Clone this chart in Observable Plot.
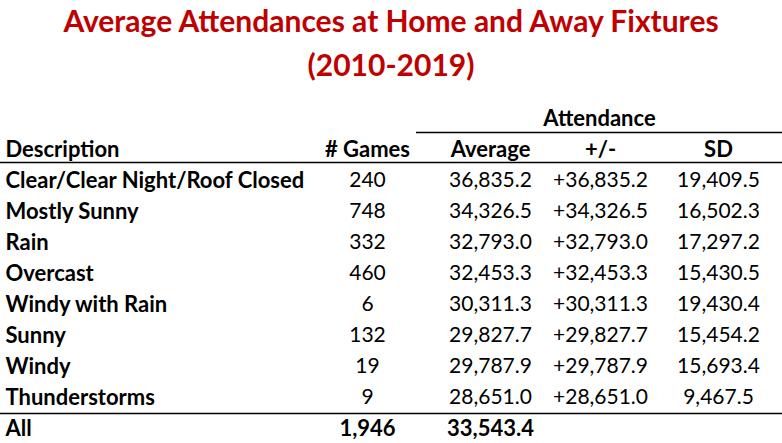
<!DOCTYPE html>
<html><head><meta charset="utf-8">
<script src="https://cdn.jsdelivr.net/npm/d3@7"></script>
<script src="https://cdn.jsdelivr.net/npm/@observablehq/plot@0.6"></script>
<style>
body{margin:0;background:#fff;font-family:Lato,sans-serif;color:#000}
#title{width:782px;height:100px;text-align:center;color:#C00000;font-weight:bold;font-size:30px;line-height:44px;}
#title div{position:relative;top:-2px}
</style></head><body>
<div id="title"><div>Average Attendances at Home and Away Fixtures<br>(2010-2019)</div></div>
<div id="chart"></div>
<script>
const descriptions = ["Clear/Clear Night/Roof Closed","Mostly Sunny","Rain","Overcast","Windy with Rain","Sunny","Windy","Thunderstorms"];
const games = [240, 748, 332, 460, 6, 132, 19, 9];
const averages = [36835.2, 34326.5, 32793.0, 32453.3, 30311.3, 29827.7, 29787.9, 28651.0];
const plusMinus = [36835.2, 34326.5, 32793.0, 32453.3, 30311.3, 29827.7, 29787.9, 28651.0];
const sds = [19409.5, 16502.3, 17297.2, 15430.5, 19430.4, 15454.2, 15693.4, 9467.5];
const totalLabel = "All";
const totalGames = 1946;
const totalAverage = 33543.4;
const columns = ["Description", "# Games", "Average", "+/-", "SD"];
const groupHeader = "Attendance";

// layout (column centres / left edge, in px)
const colX = {"Description": 5, "# Games": 367, "Average": 490, "+/-": 600, "SD": 718, "Attendance": 599};

const fInt = d3.format(",");
const f1 = d3.format(",.1f");

const cells = [];
cells.push({row: "Attendance", col: "Attendance", text: groupHeader, bold: true});
columns.forEach(c => cells.push({row: "Header", col: c, text: c, bold: true}));
descriptions.forEach((d, i) => {
  cells.push({row: d, col: "Description", text: d, bold: true});
  cells.push({row: d, col: "# Games", text: fInt(games[i]), bold: false});
  cells.push({row: d, col: "Average", text: f1(averages[i]), bold: false});
  cells.push({row: d, col: "+/-", text: "+" + f1(plusMinus[i]), bold: false});
  cells.push({row: d, col: "SD", text: f1(sds[i]), bold: false});
});
cells.push({row: totalLabel, col: "Description", text: totalLabel, bold: true});
cells.push({row: totalLabel, col: "# Games", text: fInt(totalGames), bold: true});
cells.push({row: totalLabel, col: "Average", text: f1(totalAverage), bold: true});

const rowDomain = ["Attendance", "Header", ...descriptions, totalLabel];
const X = d => colX[d.col];

const chart = Plot.plot({
  width: 782, height: 343,
  margin: 0,
  style: {fontFamily: "Lato, sans-serif", color: "#000", background: "#fff"},
  x: {type: "identity", axis: null},
  y: {type: "point", domain: rowDomain, range: [18, 328], padding: 0, axis: null},
  marks: [
    Plot.ruleY(["Attendance"], {y: d => d, x1: 416, x2: 782, dy: 14, stroke: "#000", strokeWidth: 1.5}),
    Plot.ruleY(["Header"], {y: d => d, dy: 13, stroke: "#000", strokeWidth: 1.5}),
    Plot.ruleY([totalLabel], {y: d => d, dy: -15, stroke: "#000", strokeWidth: 1.5}),
    Plot.text(cells.filter(d => d.col === "Description"), {x: X, y: "row", text: "text", textAnchor: "start", fontWeight: "bold", fontSize: 22, fill: "#000"}),
    Plot.text(cells.filter(d => d.col !== "Description" && d.bold), {x: X, y: "row", text: "text", textAnchor: "middle", fontWeight: "bold", fontSize: 22, fill: "#000"}),
    Plot.text(cells.filter(d => d.col !== "Description" && !d.bold), {x: X, y: "row", text: "text", textAnchor: "middle", fontSize: 21, fill: "#000"})
  ]
});
document.getElementById("chart").appendChild(chart);
</script>
</body></html>
